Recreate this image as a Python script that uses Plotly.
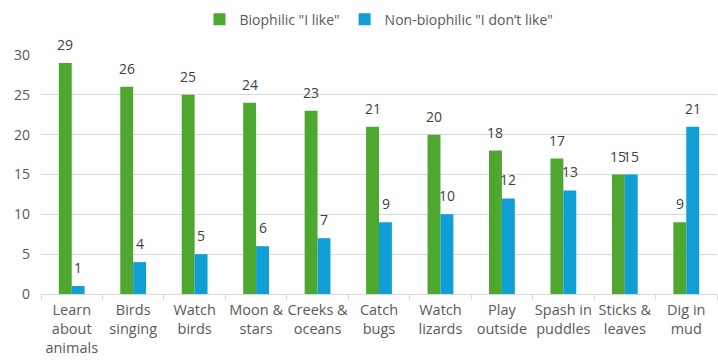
import plotly.graph_objects as go

categories = ["Learn<br>about<br>animals", "Birds<br>singing", "Watch<br>birds", "Moon &<br>stars",
              "Creeks &<br>oceans", "Catch<br>bugs", "Watch<br>lizards", "Play<br>outside",
              "Spash in<br>puddles", "Sticks &<br>leaves", "Dig in<br>mud"]
biophilic = [29, 26, 25, 24, 23, 21, 20, 18, 17, 15, 9]
non_biophilic = [1, 4, 5, 6, 7, 9, 10, 12, 13, 15, 21]

font_family = "Open Sans"
label_font = dict(color="#404040", size=14, family=font_family)
fig = go.Figure()
fig.add_trace(go.Bar(x=categories, y=biophilic, name='Biophilic "I like"',
                     marker=dict(color="#4EA72E", line=dict(width=0)), cliponaxis=False))
fig.add_trace(go.Bar(x=categories, y=non_biophilic, name='Non-biophilic "I don\u2019t like"',
                     marker=dict(color="#0F9ED5", line=dict(width=0)), cliponaxis=False))

# data labels above each bar
for series, shift in ((biophilic, -6.5), (non_biophilic, 6.5)):
    for c, v in zip(categories, series):
        fig.add_annotation(x=c, y=v, text=str(v), showarrow=False, xshift=shift,
                           yshift=7, yanchor="bottom", font=label_font)

fig.update_layout(
    width=718, height=361,
    margin=dict(l=41, r=1, t=55, b=67),
    paper_bgcolor="white", plot_bgcolor="white",
    barmode="group", bargap=0.58, bargroupgap=0,
    font=dict(family=font_family, color="#595959", size=14),
    legend=dict(orientation="h", x=0.5, xanchor="center", y=0.99, yanchor="top",
                yref="container", font=dict(size=14, color="#595959"),
                traceorder="normal", itemwidth=30),
    showlegend=True,
)
fig.update_xaxes(showgrid=False, showline=True, linecolor="#d9d9d9", linewidth=1,
                 ticks="outside", tickcolor="#d9d9d9", ticklen=5, tickson="boundaries",
                 tickfont=dict(size=14.5, color="#595959"), tickangle=0, ticklabelstandoff=3)
fig.update_yaxes(range=[0, 30], dtick=5, showgrid=True, gridcolor="#d9d9d9", gridwidth=1,
                 zeroline=False, showline=False, ticks="",
                 tickfont=dict(size=14, color="#595959"), ticklabelstandoff=10)

fig.write_html("out.html")
